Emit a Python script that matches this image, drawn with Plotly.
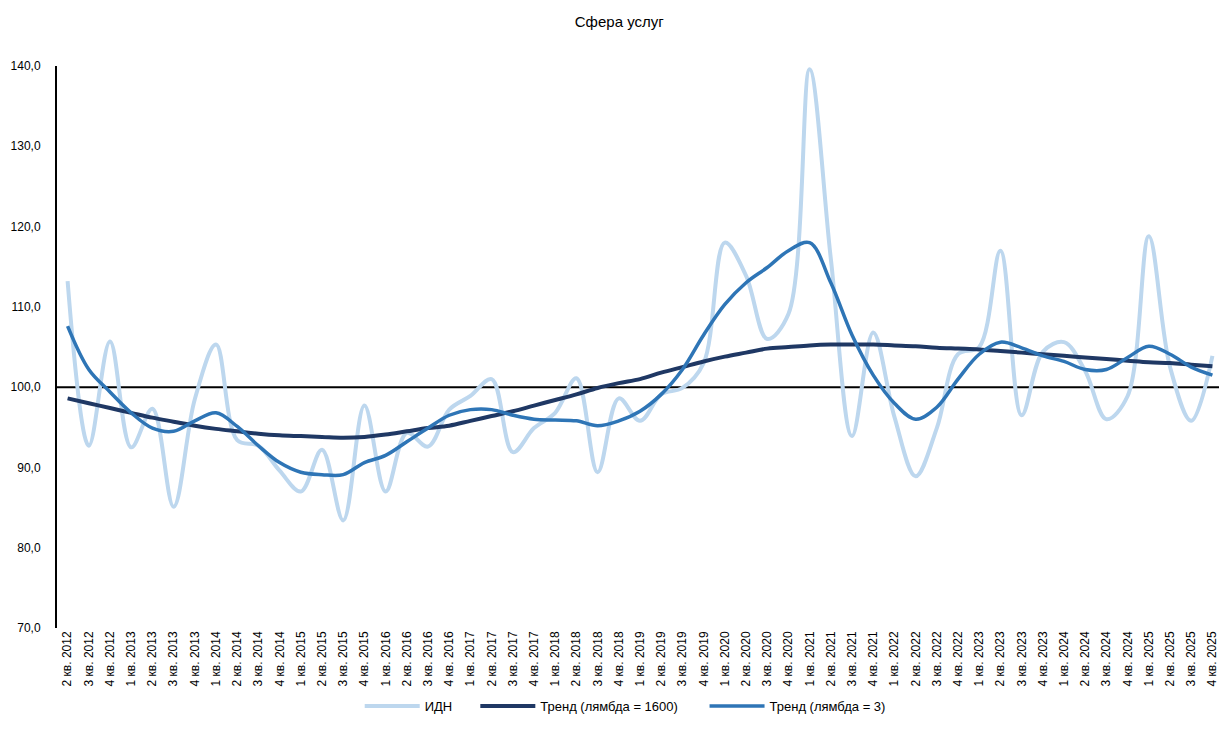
import plotly.graph_objects as go

categories = []
for y in range(2012, 2026):
    for q in range(1, 5):
        if y == 2012 and q == 1:
            continue
        categories.append(f"{q} кв. {y}")

idn = [113.2, 92.7, 105.7, 92.5, 97.3, 85.1, 98.5, 105.3, 93.4, 92.7,
       89.6, 87.0, 92.2, 83.4, 97.7, 87.0, 94.3, 92.6, 97.2, 98.9,
       101.0, 91.9, 94.9, 96.8, 101.1, 89.4, 98.6, 95.8, 99.1, 99.9,
       103.0, 118.0, 113.9, 106.0, 109.1, 139.6, 116.0, 93.9, 106.8, 96.3,
       88.9, 94.9, 104.1, 105.0, 117.0, 96.5, 104.4, 105.6, 102.0, 96.0,
       98.9, 118.8, 102.5, 95.8, 103.9]

trend_1600 = [98.6, 98.0, 97.4, 96.8, 96.2, 95.7, 95.2, 94.8, 94.5, 94.2,
              94.0, 93.9, 93.8, 93.7, 93.8, 94.1, 94.5, 94.9, 95.2, 95.8,
              96.4, 97.0, 97.7, 98.4, 99.1, 99.9, 100.5, 101.0, 101.8, 102.5,
              103.2, 103.8, 104.3, 104.8, 105.0, 105.2, 105.3, 105.3, 105.3, 105.2,
              105.1, 104.9, 104.8, 104.7, 104.5, 104.3, 104.1, 103.9, 103.7, 103.5,
              103.3, 103.1, 103.0, 102.8, 102.6]

trend_3 = [107.6, 102.2, 99.4, 96.8, 94.9, 94.5, 95.8, 96.8, 95.1, 92.7,
           90.6, 89.4, 89.1, 89.1, 90.6, 91.5, 93.2, 94.9, 96.5, 97.2,
           97.2, 96.5, 96.0, 95.9, 95.8, 95.2, 95.8, 97.0, 99.1, 102.2,
           106.5, 110.3, 113.0, 114.9, 117.0, 118.0, 113.0, 106.5, 101.5, 98.0,
           96.0, 97.5, 101.0, 104.1, 105.6, 104.9, 103.9, 103.2, 102.2, 102.2,
           103.7, 105.1, 104.1, 102.5, 101.5]

y_ticks = [70, 80, 90, 100, 110, 120, 130, 140]
y_tick_labels = [f"{v:.1f}".replace(".", ",") for v in y_ticks]

FONT = "Liberation Sans, Arial, sans-serif"
x = list(range(len(categories)))
nb = "\u00a0"

fig = go.Figure()
fig.add_trace(go.Scatter(x=x, y=idn, name="ИДН" + nb * 5, mode="lines",
                         line=dict(color="#BDD7EE", width=4, shape="spline", smoothing=1.0)))
fig.add_trace(go.Scatter(x=x, y=trend_1600, name="Тренд (лямбда = 1600)" + nb * 6, mode="lines",
                         line=dict(color="#1F3864", width=4, shape="spline", smoothing=1.0)))
fig.add_trace(go.Scatter(x=x, y=trend_3, name="Тренд (лямбда = 3)", mode="lines",
                         line=dict(color="#2E75B6", width=3.5, shape="spline", smoothing=1.0)))

fig.add_shape(type="line", xref="paper", x0=0, x1=1, yref="y", y0=100, y1=100,
              line=dict(color="black", width=2), layer="below")

fig.update_layout(
    width=1219, height=742,
    margin=dict(l=57, r=0, t=66, b=114, autoexpand=False),
    paper_bgcolor="white", plot_bgcolor="white",
    font=dict(family=FONT, size=12, color="#000000"),
    title=dict(text="Сфера услуг", x=0.508, xanchor="center", y=1 - 22 / 742, yanchor="middle",
               font=dict(family=FONT, size=15, color="#000000")),
    showlegend=True,
    legend=dict(orientation="h", x=0.489, xanchor="center", y=-0.139, yanchor="middle",
                font=dict(family=FONT, size=13), itemwidth=55, traceorder="normal"),
    xaxis=dict(range=[-0.5, 54.31], tickmode="array", tickvals=x, ticktext=categories,
               tickangle=-90, showgrid=False, zeroline=False, showline=False, automargin=False,
               ticks="", ticklabeloverflow="allow", tickfont=dict(family=FONT, size=12)),
    yaxis=dict(range=[70, 140], tickmode="array", tickvals=y_ticks, ticktext=y_tick_labels,
               showgrid=False, zeroline=False, showline=True, linecolor="black", linewidth=2,
               automargin=False, ticks="", ticklabelstandoff=12,
               tickfont=dict(family=FONT, size=12)),
)

fig.write_html("out.html", config={"displayModeBar": False},
               post_script="document.body.style.margin='0';document.body.style.overflow='hidden';")
